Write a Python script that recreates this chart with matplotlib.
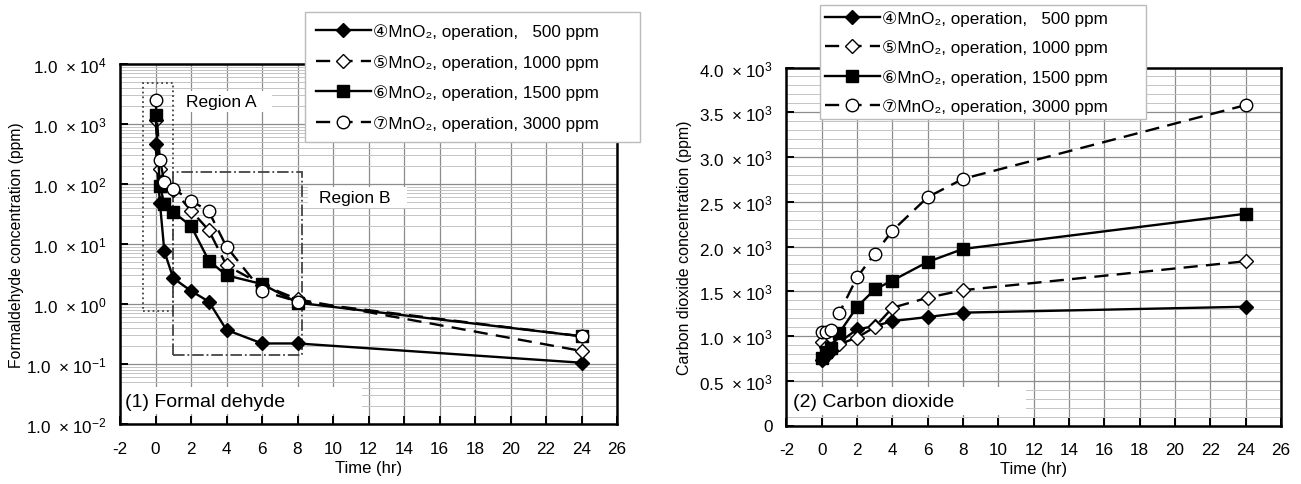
import matplotlib
matplotlib.use("Agg")
import matplotlib.pyplot as plt
from matplotlib.ticker import FixedLocator, LogLocator, MultipleLocator, NullFormatter
from matplotlib.patches import Rectangle

plt.rcParams['font.family'] = ['Liberation Sans', 'DejaVu Sans']
plt.rcParams['mathtext.default'] = 'regular'

# ---------------- data ----------------
time_hr = [0, 0.25, 0.5, 1, 2, 3, 4, 6, 8, 24]

series_labels = ["\u2463MnO\u2082, operation,   500 ppm",
                 "\u2464MnO\u2082, operation, 1000 ppm",
                 "\u2465MnO\u2082, operation, 1500 ppm",
                 "\u2466MnO\u2082, operation, 3000 ppm"]

hcho_500 = [460, 48, 7.5, 2.7, 1.65, 1.1, 0.37, 0.22, 0.22, 0.105]
hcho_1000 = [1150, 175, 100, 80, 36, 17, 4.4, 2.1, 1.2, 0.165]
hcho_1500 = [1430, 93, 46, 34, 20, 5.3, 3.0, 2.15, 1.05, 0.29]
hcho_3000 = [2500, 250, 108, 83, 53, 35, 9.0, 1.65, 1.1, 0.29]

co2_500 = [730, 780, 830, 930, 1075, 1110, 1167, 1212, 1261, 1327]
co2_1000 = [935, 880, 860, 910, 982, 1100, 1316, 1428, 1512, 1835]
co2_1500 = [750, 820, 870, 1038, 1327, 1520, 1620, 1828, 1973, 2366]
co2_3000 = [1040, 1050, 1065, 1261, 1657, 1921, 2177, 2552, 2756, 3580]

x_ticks = [-2, 0, 2, 4, 6, 8, 10, 12, 14, 16, 18, 20, 22, 24, 26]
hcho_ticks = [1e-2, 1e-1, 1e0, 1e1, 1e2, 1e3, 1e4]
hcho_ticklabels = [r'$1.0\ \times10^{-2}$', r'$1.0\ \times10^{-1}$', r'$1.0\ \times10^{0}$',
                   r'$1.0\ \times10^{1}$', r'$1.0\ \times10^{2}$', r'$1.0\ \times10^{3}$',
                   r'$1.0\ \times10^{4}$']
co2_ticks = [0, 500, 1000, 1500, 2000, 2500, 3000, 3500, 4000]
co2_ticklabels = ['0', r'$0.5\ \times10^{3}$', r'$1.0\ \times10^{3}$', r'$1.5\ \times10^{3}$',
                  r'$2.0\ \times10^{3}$', r'$2.5\ \times10^{3}$', r'$3.0\ \times10^{3}$',
                  r'$3.5\ \times10^{3}$', r'$4.0\ \times10^{3}$']

DASH = (0, (6, 3.5))
styles = [dict(marker='D', ms=7.5, mfc='black', mec='black', ls='-'),
          dict(marker='D', ms=7.5, mfc='white', mec='black', ls=DASH),
          dict(marker='s', ms=8.5, mfc='black', mec='black', ls='-'),
          dict(marker='o', ms=9, mfc='white', mec='black', ls=DASH)]

W, H = 1301, 485
fig = plt.figure(figsize=(W / 100, H / 100), dpi=100)
legend_font = {'family': ['Liberation Sans', 'DejaVu Sans'], 'size': 12.3}


def style_axes(ax):
    ax.set_axisbelow(True)
    for s in ax.spines.values():
        s.set_linewidth(1.8)
        s.set_color('black')
    ax.tick_params(which='major', direction='in', length=6, width=1.4, labelsize=12.3)
    ax.tick_params(axis='x', pad=12)
    ax.tick_params(axis='y', pad=10)
    ax.tick_params(which='minor', length=0)
    ax.grid(which='major', color='#8c8c8c', lw=0.9)
    ax.grid(which='minor', axis='y', color='#c4c4c4', lw=0.7)
    ax.set_xlim(-2, 26)
    ax.xaxis.set_major_locator(FixedLocator(x_ticks))
    ax.set_xticklabels([str(v) for v in x_ticks])
    ax.set_xlabel('Time (hr)', fontsize=12, labelpad=3)


# ---------------- left: formaldehyde ----------------
ax1 = fig.add_axes([120 / W, 1 - 425 / H, 497 / W, 360 / H])
ax1.set_yscale('log')
ax1.set_ylim(1e-2, 1e4)
ax1.yaxis.set_major_locator(FixedLocator(hcho_ticks))
ax1.set_yticklabels(hcho_ticklabels)
ax1.yaxis.set_minor_locator(LogLocator(base=10, subs=range(2, 10), numticks=20))
ax1.yaxis.set_minor_formatter(NullFormatter())
style_axes(ax1)
ax1.set_ylabel('Formaldehyde concentration (ppm)', fontsize=11.3, labelpad=1)

handles = []
for vals, st, lab in zip([hcho_500, hcho_1000, hcho_1500, hcho_3000], styles, series_labels):
    h, = ax1.plot(time_hr, vals, color='black', lw=1.7, mew=1.0, label=lab, zorder=3, **st)
    handles.append(h)

# Region boxes
ax1.add_patch(Rectangle((-0.7, 0.77), 1.7, 4800 - 0.77, fill=False, ls=':', lw=1.3,
                        ec='#444444', zorder=2.5))
ax1.add_patch(Rectangle((1.0, 0.143), 7.25, 160 - 0.143, fill=False, ls='-.', lw=1.3,
                        ec='#444444', zorder=2.5))
ax1.add_patch(Rectangle((0.111, 0.867), 0.195, 0.058, transform=ax1.transAxes,
                        fc='white', ec='none', zorder=1))
ax1.text(0.133, 0.896, 'Region A', transform=ax1.transAxes, fontsize=12.5,
         va='center', ha='left', zorder=4)
ax1.add_patch(Rectangle((0.378, 0.601), 0.2, 0.058, transform=ax1.transAxes,
                        fc='white', ec='none', zorder=1))
ax1.text(0.4, 0.63, 'Region B', transform=ax1.transAxes, fontsize=12.5,
         va='center', ha='left', zorder=4)
ax1.add_patch(Rectangle((0.004, 0.028), 0.483, 0.075, transform=ax1.transAxes,
                        fc='white', ec='none', zorder=1))
ax1.text(0.01, 0.062, '(1) Formal dehyde', transform=ax1.transAxes, fontsize=14,
         va='center', ha='left', zorder=4)

leg1 = fig.legend(handles=handles, loc='upper left',
                  bbox_to_anchor=(305 / W, 1 - 140 / H, 335 / W, 127 / H), mode='expand',
                  prop=legend_font, frameon=True, fancybox=False, edgecolor='#bbbbbb',
                  framealpha=1, handlelength=3.2, handletextpad=0.15, labelspacing=0.88,
                  borderpad=0.65, borderaxespad=0)
leg1.get_frame().set_linewidth(1.0)

# ---------------- right: carbon dioxide ----------------
ax2 = fig.add_axes([786.5 / W, 1 - 426.5 / H, 494.5 / W, 358 / H])
ax2.set_ylim(0, 4000)
ax2.yaxis.set_major_locator(FixedLocator(co2_ticks))
ax2.set_yticklabels(co2_ticklabels)
ax2.yaxis.set_minor_locator(MultipleLocator(100))
style_axes(ax2)
ax2.set_ylabel('Carbon dioxide concentration (ppm)', fontsize=11.5, labelpad=5)

handles2 = []
for vals, st, lab in zip([co2_500, co2_1000, co2_1500, co2_3000], styles, series_labels):
    h, = ax2.plot(time_hr, vals, color='black', lw=1.7, mew=1.0, label=lab, zorder=3, **st)
    handles2.append(h)

ax2.add_patch(Rectangle((0.004, 0.03), 0.48, 0.078, transform=ax2.transAxes,
                        fc='white', ec='none', zorder=1))
ax2.text(0.014, 0.066, '(2) Carbon dioxide', transform=ax2.transAxes, fontsize=14,
         va='center', ha='left', zorder=4)

leg2 = fig.legend(handles=handles2, loc='upper left',
                  bbox_to_anchor=(820 / W, 1 - 124 / H, 326 / W, 118 / H), mode='expand',
                  prop=legend_font, frameon=True, fancybox=False, edgecolor='#bbbbbb',
                  framealpha=1, handlelength=3.2, handletextpad=0.15, labelspacing=0.8,
                  borderpad=0.3, borderaxespad=0)
leg2.get_frame().set_linewidth(1.0)

fig.savefig('out.png', dpi=100)
